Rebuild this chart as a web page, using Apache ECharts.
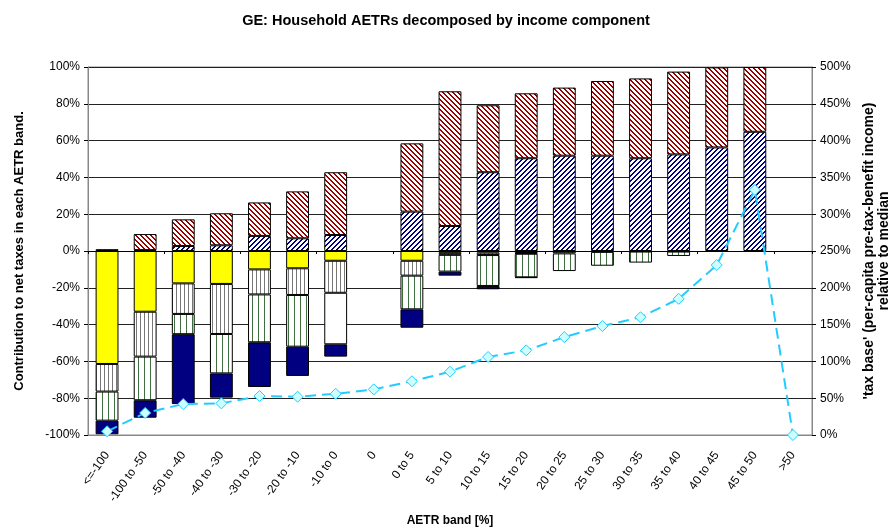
<!DOCTYPE html>
<html>
<head>
<meta charset="utf-8">
<script src="https://cdn.jsdelivr.net/npm/echarts@6/dist/echarts.min.js"></script>
<style>
  html, body { margin: 0; padding: 0; background: #fff; }
  #chart { width: 892px; height: 532px; }
</style>
</head>
<body>
<div id="chart"></div>
<script>
// AETR bands
const bands = ['<=-100', '-100 to -50', '-50 to -40', '-40 to -30', '-30 to -20', '-20 to -10', '-10 to 0', '0',
  '0 to 5', '5 to 10', '10 to 15', '15 to 20', '20 to 25', '25 to 30', '30 to 35', '35 to 40', '40 to 45', '45 to 50', '>50'];

// positive contributions (%)
const bluePart = [null, 0.5, 2.7, 3.1, 8.2, 6.9, 8.7, null, 21.4, 13.6, 42.8, 50.4, 51.8, 51.8, 50.4, 52.5, 56.3, 64.8, null];
const redPart = [1, 8.7, 14.5, 17.4, 18.2, 25.5, 34.1, null, 37.1, 73.2, 36.4, 35.3, 37, 40.6, 43.4, 45, 43.5, 35.2, null];

// negative contributions (%)
const yellowPart = [-61.4, -33, -17.6, -17.9, -10, -9.4, -5.3, null, -5.3, -1, -0.9, -1.1, -0.3, null, null, null, null, null, null];
const greyPart = [-15, -24.4, -16.6, -27.2, -13.6, -14.5, -17.4, null, -8.1, -1.1, -1.3, -0.4, -1, -0.5, -0.3, -0.3, null, null, null];
const greenPart = [-15.8, -23.7, -11, -21.4, -26, -28.1, null, null, -18.3, -9.1, -16.8, -12.8, -9.6, -7.5, -6, -2.4, -0.4, null, null];
const whitePart = [null, null, null, null, null, null, -28, null, null, null, null, null, null, null, null, null, null, null, null];
const navyPart = [-7.4, -9.5, -38, -13.2, -24.3, -15.9, -6.7, null, -10, -2.2, -1.8, -0.3, null, null, null, null, null, null, null];

// tax base relative to median (%), right axis
const taxBase = [5, 30, 42, 43, 53, 52, 56, 62, 73, 86, 106, 115, 133, 148, 160, 185, 231, 333, 0];

function hatch(color, size, width, dir) {
  const c = document.createElement('canvas');
  c.width = size; c.height = size;
  const ctx = c.getContext('2d');
  const img = ctx.createImageData(size, size);
  const r = parseInt(color.slice(1, 3), 16), g = parseInt(color.slice(3, 5), 16), b = parseInt(color.slice(5, 7), 16);
  for (let y = 0; y < size; y++) {
    for (let x = 0; x < size; x++) {
      let k;
      if (dir === '/') k = (x + y) % size;
      else if (dir === '\\') k = ((x - y) % size + size) % size;
      else k = x % size;
      const on = k < width;
      const i = (y * size + x) * 4;
      img.data[i] = on ? r : 255;
      img.data[i + 1] = on ? g : 255;
      img.data[i + 2] = on ? b : 255;
      img.data[i + 3] = 255;
    }
  }
  ctx.putImageData(img, 0, 0);
  return { image: c, repeat: 'repeat' };
}

const chart = echarts.init(document.getElementById('chart'));
const font = 'Liberation Sans';
const border = { borderColor: '#000', borderWidth: 1 };

function bar(name, data, color) {
  return {
    name: name, type: 'bar', stack: 'total', data: data, barWidth: '60%',
    itemStyle: Object.assign({ color: color }, border)
  };
}

chart.setOption({
  animation: false,
  textStyle: { fontFamily: font },
  title: {
    text: 'GE: Household AETRs decomposed by income component',
    left: 'center', top: 8,
    textStyle: { fontSize: 14.5, fontWeight: 'bold', color: '#000', fontFamily: font }
  },
  grid: {
    left: 88, right: 80, top: 67, bottom: 97, containLabel: false, outerBoundsMode: 'none',
    show: true, borderColor: '#888', borderWidth: 1
  },
  xAxis: [{
    type: 'category', data: bands,
    axisLine: { onZero: false, lineStyle: { color: '#888' } },
    axisTick: { show: false },
    axisLabel: { rotate: 55, fontSize: 12, color: '#000', margin: 18, interval: 0 },
    name: 'AETR band [%]', nameLocation: 'middle', nameGap: 80,
    nameTextStyle: { fontWeight: 'bold', fontSize: 12, color: '#000' }
  }, {
    type: 'category', data: bands, position: 'bottom',
    axisLine: { onZero: true, onZeroAxisIndex: 0, lineStyle: { color: '#000' } },
    axisTick: { show: true, length: 3, lineStyle: { color: '#000' } },
    axisLabel: { show: false }
  }],
  yAxis: [{
    type: 'value', min: -100, max: 100, interval: 20,
    axisLine: { show: true, lineStyle: { color: '#888' } },
    axisTick: { show: true, length: 4, lineStyle: { color: '#000' } },
    axisLabel: { formatter: '{value}%', fontSize: 12, color: '#000' },
    splitLine: { lineStyle: { color: '#222', width: 1 } },
    name: 'Contribution to net taxes in each AETR band.', nameLocation: 'middle', nameGap: 62, nameRotate: 90,
    nameTextStyle: { fontWeight: 'bold', fontSize: 13, color: '#000' }
  }, {
    type: 'value', min: 0, max: 500, interval: 50, position: 'right',
    axisLine: { show: true, lineStyle: { color: '#888' } },
    axisTick: { show: true, length: 4, lineStyle: { color: '#000' } },
    axisLabel: { formatter: '{value}%', fontSize: 12, color: '#000' },
    splitLine: { show: false },
    name: "'tax base' (per-capita pre-tax-benefit income)\nrelative to median", nameLocation: 'middle', nameGap: 48, nameRotate: 90,
    nameTextStyle: { fontWeight: 'bold', fontSize: 14, color: '#000', lineHeight: 15, align: 'center' }
  }],
  series: [
    bar('blue', bluePart, hatch('#000080', 5, 2, '/')),
    bar('red', redPart, hatch('#990000', 5, 2, '\\')),
    bar('yellow', yellowPart, '#ffff00'),
    bar('grey', greyPart, hatch('#777777', 4, 1, '|')),
    bar('green', greenPart, hatch('#3f6f3f', 6, 1, '|')),
    bar('white', whitePart, '#ffffff'),
    bar('navy', navyPart, '#000080'),
    {
      name: 'tax base', type: 'line', yAxisIndex: 1, data: taxBase, z: 5,
      symbol: 'diamond', symbolSize: 11,
      lineStyle: { color: '#22ccff', width: 2, type: [11, 6] },
      itemStyle: { color: '#ccffff', borderColor: '#22ccff', borderWidth: 1 }
    }
  ]
});
</script>
</body>
</html>
